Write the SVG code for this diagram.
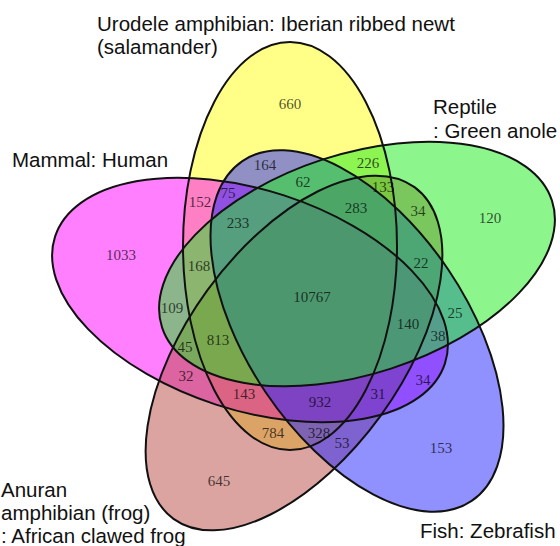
<svg xmlns="http://www.w3.org/2000/svg" xmlns:xlink="http://www.w3.org/1999/xlink" width="560" height="546" viewBox="0 0 560 546">
<style>
.fill{stroke:none;fill-opacity:0.5}
.outline{fill:none;stroke:#111;stroke-width:2}
.num{font-family:"Liberation Serif","Times New Roman",serif;font-size:15px;text-anchor:middle;fill:#000;fill-opacity:0.7}
.lbl{font-family:"Liberation Sans",Arial,sans-serif;font-size:20.5px;fill:#111}
</style>
<defs>
<ellipse id="eY" cx="290" cy="246" rx="107" ry="204"/>
<ellipse id="eM" cx="0" cy="0" rx="110" ry="205" transform="translate(250,300) rotate(288)"/>
<ellipse id="eF" cx="0" cy="0" rx="107" ry="205" transform="translate(294,353) rotate(216)"/>
<ellipse id="eB" cx="0" cy="0" rx="110" ry="205" transform="translate(357,331) rotate(146)"/>
<ellipse id="eG" cx="0" cy="0" rx="110" ry="205" transform="translate(357,264) rotate(72)"/>
</defs>
<rect width="560" height="546" fill="#fff"/>
<g id="set-urodele"><use xlink:href="#eY" class="fill" fill="#ffff11"/></g>
<g id="set-mammal"><use xlink:href="#eM" class="fill" fill="#ff00ff"/></g>
<g id="set-frog"><use xlink:href="#eF" class="fill" fill="#b84a44"/></g>
<g id="set-fish"><use xlink:href="#eB" class="fill" fill="#2121ff"/></g>
<g id="set-reptile"><use xlink:href="#eG" class="fill" fill="#19eb19"/></g>
<g id="outlines">
<use xlink:href="#eY" class="outline"/>
<use xlink:href="#eM" class="outline"/>
<use xlink:href="#eF" class="outline"/>
<use xlink:href="#eB" class="outline"/>
<use xlink:href="#eG" class="outline"/>
</g>
<g id="counts">
<text class="num" x="290" y="109">660</text>
<text class="num" x="265" y="170">164</text>
<text class="num" x="368" y="168">226</text>
<text class="num" x="200" y="207">152</text>
<text class="num" x="228" y="198">75</text>
<text class="num" x="303" y="187">62</text>
<text class="num" x="383" y="192">133</text>
<text class="num" x="356" y="213">283</text>
<text class="num" x="418" y="216">34</text>
<text class="num" x="490" y="223">120</text>
<text class="num" x="121" y="260">1033</text>
<text class="num" x="238" y="228">233</text>
<text class="num" x="199" y="271">168</text>
<text class="num" x="421" y="268">22</text>
<text class="num" x="312" y="302">10767</text>
<text class="num" x="172" y="313">109</text>
<text class="num" x="455" y="318">25</text>
<text class="num" x="408" y="329">140</text>
<text class="num" x="438" y="341">38</text>
<text class="num" x="185" y="352">45</text>
<text class="num" x="218" y="345">813</text>
<text class="num" x="186" y="381">32</text>
<text class="num" x="423" y="385">34</text>
<text class="num" x="244" y="399">143</text>
<text class="num" x="320" y="407">932</text>
<text class="num" x="378" y="399">31</text>
<text class="num" x="273" y="438">784</text>
<text class="num" x="319" y="438">328</text>
<text class="num" x="342" y="448">53</text>
<text class="num" x="441" y="453">153</text>
<text class="num" x="219" y="486">645</text>
</g>
<g id="labels">
<text class="lbl" x="97" y="31">Urodele amphibian: Iberian ribbed newt</text>
<text class="lbl" x="97" y="54">(salamander)</text>
<text class="lbl" x="433" y="114">Reptile</text>
<text class="lbl" x="433" y="138">: Green anole</text>
<text class="lbl" x="12" y="167">Mammal: Human</text>
<text class="lbl" x="1" y="497">Anuran</text>
<text class="lbl" x="1" y="520">amphibian (frog)</text>
<text class="lbl" x="1" y="543">: African clawed frog</text>
<text class="lbl" x="420" y="538">Fish: Zebrafish</text>
</g>
</svg>
